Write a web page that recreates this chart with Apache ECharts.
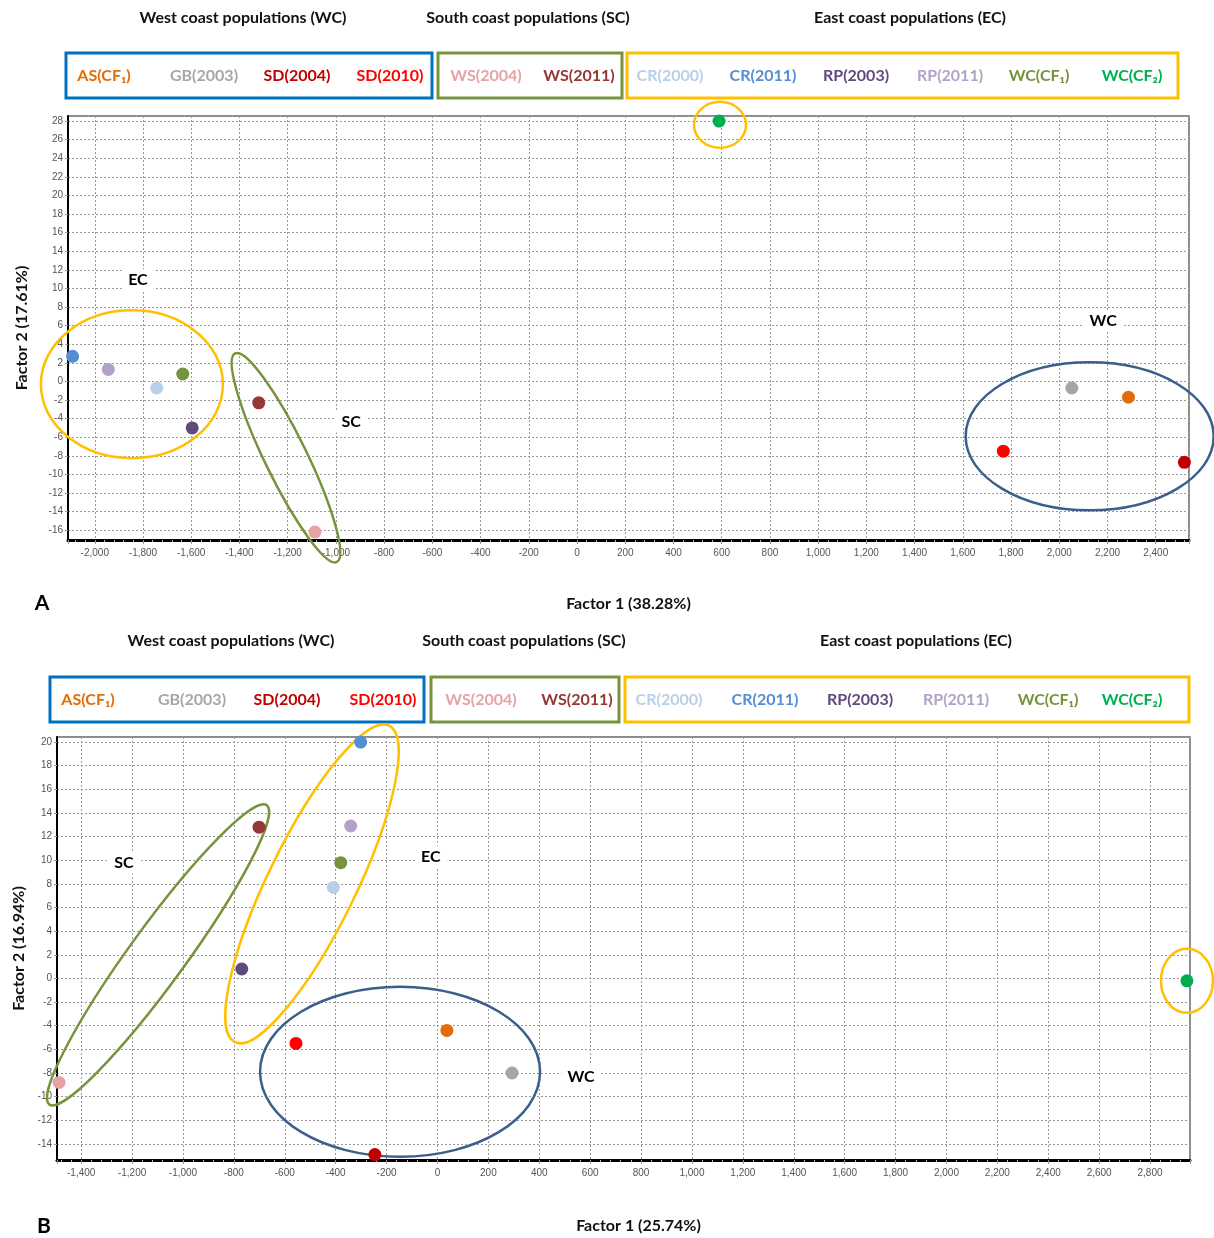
<!DOCTYPE html>
<html>
<head>
<meta charset="utf-8">
<script src="https://cdn.jsdelivr.net/npm/echarts@6/dist/echarts.min.js"></script>
<style>
  html, body { margin: 0; padding: 0; background: #fff; }
  #chart { width: 1214px; height: 1238px; }
</style>
</head>
<body>
<div id="chart"></div>
<script>
// Populations (same order in both ordinations)
const populations = ['AS(CF₁)', 'GB(2003)', 'SD(2004)', 'SD(2010)', 'WS(2004)', 'WS(2011)',
                     'CR(2000)', 'CR(2011)', 'RP(2003)', 'RP(2011)', 'WC(CF₁)', 'WC(CF₂)'];
const regionOf = ['WC', 'WC', 'WC', 'WC', 'SC', 'SC', 'EC', 'EC', 'EC', 'EC', 'EC', 'EC'];
const regionTitles = ['West coast populations (WC)', 'South coast populations (SC)', 'East coast populations (EC)'];

// Panel A scores
const factor1A = [2287, 2052, 2519, 1768, -1087, -1320, -1743, -2092, -1596, -1944, -1635, 589];
const factor2A = [-1.7, -0.7, -8.7, -7.5, -16.2, -2.3, -0.7, 2.7, -5.0, 1.3, 0.8, 28.0];
// Panel B scores
const factor1B = [37, 293, -246, -556, -1487, -701, -409, -302, -769, -341, -380, 2945];
const factor2B = [-4.4, -8.0, -14.9, -5.5, -8.8, 12.8, 7.7, 20.0, 0.8, 12.9, 9.8, -0.2];

const axisNamesA = ['Factor 1 (38.28%)', 'Factor 2 (17.61%)'];
const axisNamesB = ['Factor 1 (25.74%)', 'Factor 2 (16.94%)'];

// ---- styling ----
const popColors = ['#e36c09', '#a6a6a6', '#c00000', '#ff0000', '#e6a3a3', '#953735',
                   '#b9cfe8', '#558ed5', '#604a7b', '#b3a2c7', '#77933c', '#00b050'];
const FONT = 'Lato, "Open Sans", sans-serif';
const AXFONT = '"Liberation Sans Narrow", "Liberation Sans", sans-serif';
const YELLOW = '#ffc000', GREEN = '#77933c', NAVY = '#3b5e8c', BOXBLUE = '#0070c0';

// Cluster outlines: centre in data units, radii in px, rotation in degrees
const outlinesA = [
  { c: [-1846, -0.3], rx: 91, ry: 74, rot: 0, color: YELLOW },
  { c: [-1207, -8.2], rx: 21, ry: 116, rot: 26, color: GREEN },
  { c: [2126, -5.9], rx: 124, ry: 74, rot: 0, color: NAVY },
  { c: [593, 27.6], rx: 26, ry: 23, rot: 0, color: YELLOW }
];
const outlinesB = [
  { c: [-1098, 2.0], rx: 28, ry: 185, rot: -36, color: GREEN },
  { c: [-493, 8.0], rx: 44, ry: 176, rot: -26, color: YELLOW },
  { c: [-147, -7.9], rx: 140, ry: 85, rot: 0, color: NAVY },
  { c: [2945, -0.2], rx: 26, ry: 32, rot: 0, color: YELLOW }
];
const tagsA = [{ t: 'EC', at: [-1821, 10.9] }, { t: 'SC', at: [-937, -4.3] }, { t: 'WC', at: [2182, 6.5] }];
const tagsB = [{ t: 'SC', at: [-1232, 9.8] }, { t: 'EC', at: [-26, 10.3] }, { t: 'WC', at: [564, -8.3] }];

const fmt = v => Math.round(v).toLocaleString('en-US');

function xAxisFor(gridIndex, min, max, name, gap, shift) {
  return {
    gridIndex, type: 'value', min, max, minInterval: 200, maxInterval: 200, splitNumber: 22,
    name, nameLocation: 'middle', nameGap: gap,
    nameTextStyle: { fontFamily: FONT, fontWeight: 'bold', fontSize: 16, color: '#111', padding: [0, 0, 0, shift] },
    axisLine: { show: true, onZero: false, lineStyle: { color: '#000', width: 3 } },
    axisTick: { show: true, length: 4, lineStyle: { color: '#999' } },
    minorTick: { show: true, splitNumber: 5, length: 2, lineStyle: { color: '#bbb' } },
    axisLabel: { showMinLabel: false, showMaxLabel: false, margin: 8, fontSize: 10,
                 fontFamily: AXFONT, color: '#555', formatter: fmt },
    splitLine: { show: true, lineStyle: { color: '#9a9a9a', width: 1, type: [2, 2] } }
  };
}
function yAxisFor(gridIndex, min, max, name, gap) {
  return {
    gridIndex, type: 'value', min, max, minInterval: 2, maxInterval: 2, splitNumber: 22,
    name, nameLocation: 'middle', nameGap: gap,
    nameTextStyle: { fontFamily: FONT, fontWeight: 'bold', fontSize: 16, color: '#111' },
    axisLine: { show: true, onZero: false, lineStyle: { color: '#000', width: 2 } },
    axisTick: { show: true, length: 3, lineStyle: { color: '#999' } },
    axisLabel: { showMinLabel: false, showMaxLabel: false, margin: 5, fontSize: 10,
                 fontFamily: AXFONT, color: '#555', formatter: fmt },
    splitLine: { show: true, lineStyle: { color: '#9a9a9a', width: 1, type: [2, 2] } }
  };
}

function scatterFor(idx, xs, ys) {
  return {
    type: 'scatter', xAxisIndex: idx, yAxisIndex: idx, symbolSize: 13, z: 5, clip: false,
    data: populations.map((n, i) => ({ name: n, value: [xs[i], ys[i]], itemStyle: { color: popColors[i], opacity: 1 } }))
  };
}
function outlineSeries(idx, list) {
  return {
    type: 'custom', xAxisIndex: idx, yAxisIndex: idx, silent: true, clip: false, z: 4,
    data: list.map(o => [o.c[0], o.c[1]]),
    encode: { x: 0, y: 1 },
    renderItem: (params, api) => {
      const o = list[params.dataIndex];
      const p = api.coord([api.value(0), api.value(1)]);
      return {
        type: 'ellipse', x: p[0], y: p[1], rotation: o.rot * Math.PI / 180,
        shape: { cx: 0, cy: 0, rx: o.rx, ry: o.ry },
        style: { fill: 'none', stroke: o.color, lineWidth: 2.5 }
      };
    }
  };
}
function tagSeries(idx, list) {
  return {
    type: 'custom', xAxisIndex: idx, yAxisIndex: idx, silent: true, clip: false, z: 6,
    data: list.map(o => o.at),
    encode: { x: 0, y: 1 },
    renderItem: (params, api) => {
      const p = api.coord([api.value(0), api.value(1)]);
      return {
        type: 'text', x: p[0], y: p[1],
        style: { text: list[params.dataIndex].t, fill: '#000', font: 'bold 16px ' + FONT,
                 align: 'center', verticalAlign: 'middle', backgroundColor: '#fff', padding: [3, 6] }
      };
    }
  };
}

// Header: region titles, boxed colour keys
function header(titleY, titleX, boxY, boxes, itemX) {
  const g = [];
  regionTitles.forEach((t, i) => g.push({
    type: 'text', x: titleX[i], y: titleY,
    style: { text: t, font: 'bold 16px ' + FONT, fill: '#111', align: 'center', verticalAlign: 'middle' }
  }));
  const boxColors = [BOXBLUE, GREEN, YELLOW];
  boxes.forEach((b, i) => g.push({
    type: 'rect', shape: { x: b[0], y: boxY, width: b[1] - b[0], height: 45 },
    style: { fill: 'none', stroke: boxColors[i], lineWidth: 3 }
  }));
  populations.forEach((n, i) => g.push({
    type: 'text', x: itemX[i], y: boxY + 23,
    style: { text: n, font: 'bold 16px ' + FONT, fill: popColors[i], align: 'center', verticalAlign: 'middle' }
  }));
  return g;
}

const chart = echarts.init(document.getElementById('chart'), null, { renderer: 'canvas' });
chart.setOption({
  animation: false,
  backgroundColor: '#fff',
  grid: [
    { left: 68, top: 116, width: 1121, height: 424, show: true, borderColor: '#666', borderWidth: 1.5, backgroundColor: 'transparent' },
    { left: 57, top: 737, width: 1133, height: 423, show: true, borderColor: '#666', borderWidth: 1.5, backgroundColor: 'transparent' }
  ],
  xAxis: [
    xAxisFor(0, -2111, 2538, axisNamesA[0], 56, 0),
    xAxisFor(1, -1495, 2957, axisNamesB[0], 58, 30)
  ],
  yAxis: [
    yAxisFor(0, -17.05, 28.55, axisNamesA[1], 38),
    yAxisFor(1, -15.36, 20.43, axisNamesB[1], 25)
  ],
  series: [
    outlineSeries(0, outlinesA), tagSeries(0, tagsA), scatterFor(0, factor1A, factor2A),
    outlineSeries(1, outlinesB), tagSeries(1, tagsB), scatterFor(1, factor1B, factor2B)
  ],
  graphic: [].concat(
    header(18, [243, 528, 910], 53, [[66, 432], [438, 622], [627, 1178]],
           [104, 204, 297, 390, 486, 579, 670, 763, 856, 950, 1039, 1132]),
    header(641, [231, 524, 916], 677, [[50, 424], [431, 619], [625, 1189]],
           [88, 192, 287, 383, 481, 577, 669, 765, 860, 956, 1048, 1132]),
    [
      { type: 'text', x: 42, y: 603, style: { text: 'A', font: 'bold 21px ' + FONT, fill: '#000', align: 'center', verticalAlign: 'middle' } },
      { type: 'text', x: 44, y: 1226, style: { text: 'B', font: 'bold 21px ' + FONT, fill: '#000', align: 'center', verticalAlign: 'middle' } }
    ]
  )
});
</script>
</body>
</html>
